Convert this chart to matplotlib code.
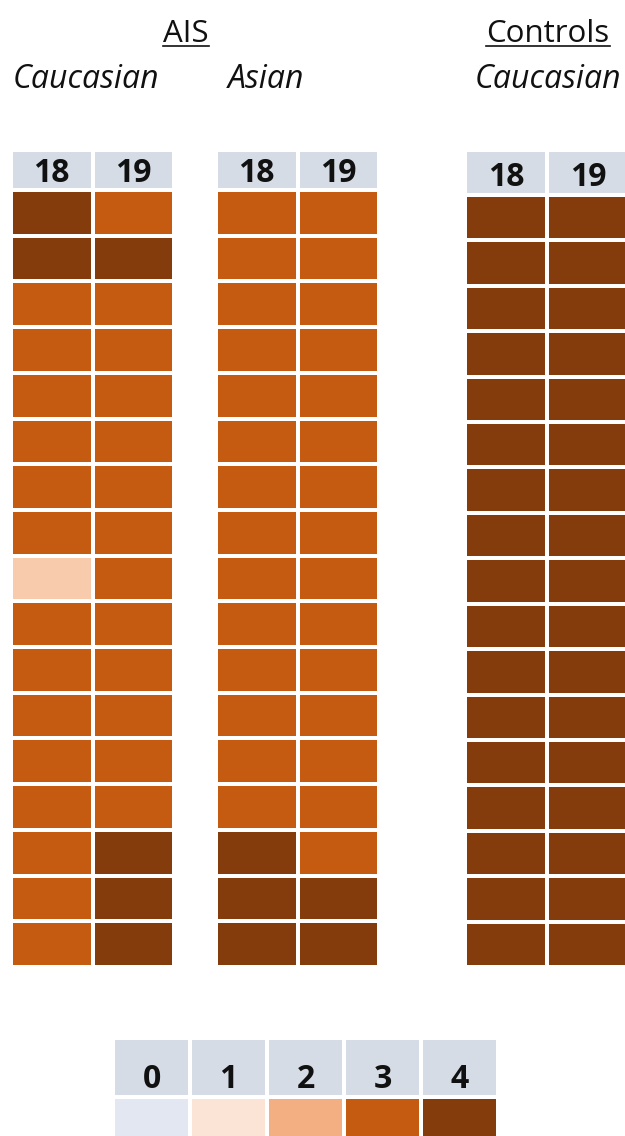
import matplotlib
matplotlib.use("Agg")
import matplotlib.pyplot as plt
from matplotlib.colors import ListedColormap, BoundaryNorm
from matplotlib.lines import Line2D
import numpy as np

plt.rcParams['font.family'] = ['Open Sans', 'DejaVu Sans']

# score per row (17 subjects), column 18 and column 19
cauc_18 = [4, 4, 3, 3, 3, 3, 3, 3, 1, 3, 3, 3, 3, 3, 3, 3, 3]
cauc_19 = [3, 4, 3, 3, 3, 3, 3, 3, 3, 3, 3, 3, 3, 3, 4, 4, 4]
asian_18 = [3, 3, 3, 3, 3, 3, 3, 3, 3, 3, 3, 3, 3, 3, 4, 4, 4]
asian_19 = [3, 3, 3, 3, 3, 3, 3, 3, 3, 3, 3, 3, 3, 3, 3, 4, 4]
ctrl_18 = [4, 4, 4, 4, 4, 4, 4, 4, 4, 4, 4, 4, 4, 4, 4, 4, 4]
ctrl_19 = [4, 4, 4, 4, 4, 4, 4, 4, 4, 4, 4, 4, 4, 4, 4, 4, 4]
col_labels = ["18", "19"]
scale = [0, 1, 2, 3, 4]
key_colors = ["#e3e7f1", "#fbe3d5", "#f3af82", "#c55a11", "#843c0c"]
cell_colors = ["#e3e7f1", "#f8cbad", "#f3af82", "#c55a11", "#843c0c"]
header_color = "#d6dce5"

W, H = 625, 1136
fig = plt.figure(figsize=(W / 100, H / 100), dpi=100)
norm = BoundaryNorm(np.arange(-0.5, 5.5, 1), 5)


def px_axes(x0, y0, x1, y1):
	ax = fig.add_axes([x0 / W, 1 - y1 / H, (x1 - x0) / W, (y1 - y0) / H])
	ax.set_axis_off()
	return ax


def header(x0, y0, x1, y1, labels, base=0.8, fs=23):
	# base = baseline of the digits, as fraction of the box height from the top
	ax = px_axes(x0, y0, x1, y1)
	n = len(labels)
	ax.pcolormesh(np.zeros((1, n)), cmap=ListedColormap([header_color]),
		edgecolors="white", linewidth=1.5)
	for i, lab in enumerate(labels):
		ax.text(i + 0.5, base, lab, ha="center", va="baseline", fontsize=fs,
			fontweight="bold", color="#111111")
	ax.set_xlim(0, n)
	ax.set_ylim(1, 0)


def block(x0, y0, x1, y1, c18, c19):
	ax = px_axes(x0, y0, x1, y1)
	data = np.array([c18, c19]).T
	ax.pcolormesh(data, cmap=ListedColormap(cell_colors), norm=norm,
		edgecolors="white", linewidth=1.5)
	ax.set_xlim(0, 2)
	ax.set_ylim(len(c18), 0)


# AIS caucasian
header(11, 150, 174, 190, col_labels)
block(11, 190, 174, 967, cauc_18, cauc_19)
# AIS asian
header(216, 150, 379, 190, col_labels)
block(216, 190, 379, 967, asian_18, asian_19)
# controls caucasian (runs off the right edge)
header(465, 150, 629, 195, col_labels, base=0.8)
block(465, 195, 629, 967, ctrl_18, ctrl_19)

# colour key
header(113, 1038, 498, 1097, [str(s) for s in scale], base=0.85)
ax = px_axes(113, 1097, 498, 1150)
ax.pcolormesh(np.array([scale]), cmap=ListedColormap(key_colors), norm=norm,
	edgecolors="white", linewidth=1.5)
ax.set_xlim(0, 5)
ax.set_ylim(1, 0)

# titles
tx = fig.add_axes([0, 0, 1, 1])
tx.set_axis_off()
tx.set_xlim(0, W)
tx.set_ylim(H, 0)
titles = []
for x, y, s in [(186, 42, "AIS"), (548, 42, "Controls")]:
	titles.append(tx.text(x, y, s, ha="center", va="baseline", fontsize=22.5, color="#111111"))
for x, y, s in [(86, 88, "Caucasian"), (266, 88, "Asian"), (548, 88, "Caucasian")]:
	tx.text(x, y, s, ha="center", va="baseline", fontsize=23, style="italic", color="#111111")

fig.canvas.draw()
r = fig.canvas.get_renderer()
inv = tx.transData.inverted()
for t in titles:
	bb = t.get_window_extent(r)
	(xa, ya), (xb, yb) = inv.transform([[bb.x0, bb.y0], [bb.x1, bb.y1]])
	tx.add_line(Line2D([xa, xb], [46, 46], color="#111111", lw=1.2))

fig.savefig("out.png", dpi=100)
